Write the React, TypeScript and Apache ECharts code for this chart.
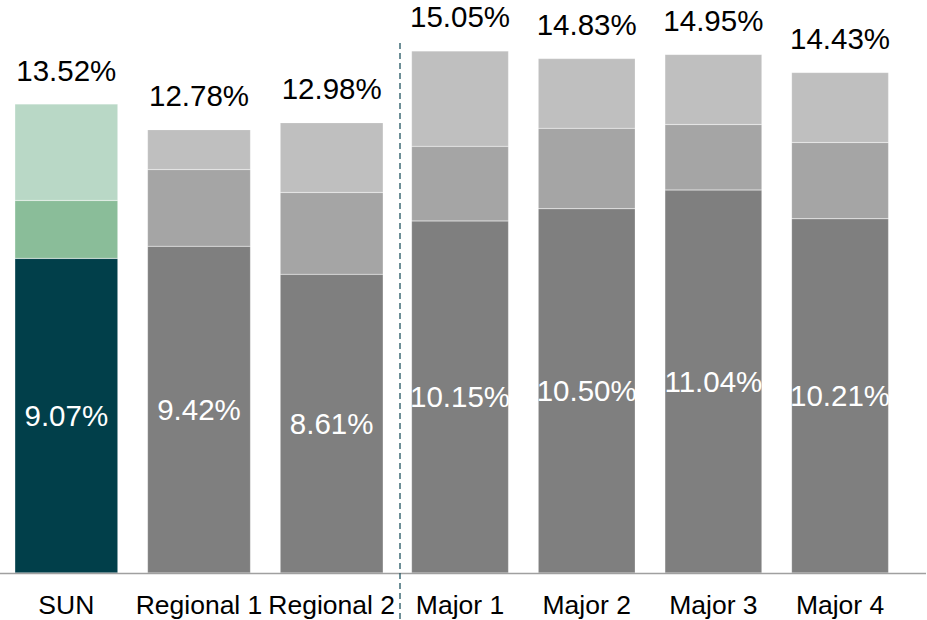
import React, { useEffect, useRef } from "react";
import * as echarts from "echarts";

const categories = ["SUN", "Regional 1", "Regional 2", "Major 1", "Major 2", "Major 3", "Major 4"];
const baseValues = [9.07, 9.42, 8.61, 10.15, 10.5, 11.04, 10.21];
const midValues = [1.67, 2.21, 2.36, 2.15, 2.32, 1.89, 2.2];
const topValues = [2.78, 1.15, 2.01, 2.75, 2.01, 2.02, 2.02];
const totals = [13.52, 12.78, 12.98, 15.05, 14.83, 14.95, 14.43];

const GRAY = ["#7f7f7f", "#a5a5a5", "#bfbfbf"];
const GREEN = ["#013f4a", "#8abd99", "#b9d8c6"];
const FONT = "'Liberation Sans', Arial, sans-serif";

export default function App() {
  const ref = useRef<HTMLDivElement>(null);
  useEffect(() => {
    if (!ref.current) return;
    const chart = echarts.init(ref.current, null, { renderer: "svg" });
    const splitAt = 3;
    const groups = [
      { idx: 0, from: 0, to: splitAt, barWidth: 103 },
      { idx: 1, from: splitAt, to: categories.length, barWidth: 97 },
    ];
    const layers = [baseValues, midValues, topValues];
    const series: any[] = [];
    groups.forEach((g) => {
      layers.forEach((vals, li) => {
        series.push({
          type: "bar",
          xAxisIndex: g.idx,
          yAxisIndex: g.idx,
          stack: "s" + g.idx,
          barWidth: g.barWidth,
          data: vals.slice(g.from, g.to).map((v, i) => {
            const ci = g.from + i;
            return {
              value: v,
              itemStyle: {
                color: ci === 0 ? GREEN[li] : GRAY[li],
                borderColor: "rgba(255,255,255,0.35)",
                borderWidth: 0.5,
              },
            };
          }),
          label:
            li === 0
              ? {
                  show: true,
                  position: "inside",
                  color: "#ffffff",
                  fontSize: 29.5,
                  fontFamily: FONT,
                  formatter: (p: any) => baseValues[g.from + p.dataIndex].toFixed(2) + "%",
                }
              : li === 2
              ? {
                  show: true,
                  position: "top",
                  distance: 19,
                  color: "#000000",
                  fontSize: 29.5,
                  fontFamily: FONT,
                  formatter: (p: any) => totals[g.from + p.dataIndex].toFixed(2) + "%",
                }
              : { show: false },
        });
      });
    });
    const xAxisCommon = {
      type: "category",
      axisLine: { show: false },
      axisTick: { show: false },
      axisLabel: { fontSize: 26.5, color: "#000000", fontFamily: FONT, margin: 18, interval: 0 },
    };
    chart.setOption({
      animation: false,
      grid: [
        { left: 0, width: 398, top: 18, bottom: 47 },
        { left: 396.7, width: 506.7, top: 18, bottom: 47 },
      ],
      xAxis: [
        { ...xAxisCommon, gridIndex: 0, data: categories.slice(0, splitAt) },
        { ...xAxisCommon, gridIndex: 1, data: categories.slice(splitAt) },
      ],
      yAxis: [
        { type: "value", gridIndex: 0, min: 0, max: 16, show: false },
        { type: "value", gridIndex: 1, min: 0, max: 16, show: false },
      ],
      series,
      graphic: [
        {
          type: "line",
          shape: { x1: 0, y1: 573.5, x2: 926, y2: 573.5 },
          style: { stroke: "#a0a0a0", lineWidth: 1.5 },
          z: 10,
        },
        {
          type: "line",
          shape: { x1: 400, y1: 43, x2: 400, y2: 620 },
          style: { stroke: "#1f5360", lineWidth: 1.3, lineDash: [6, 4] },
          z: 10,
        },
      ],
    });
    return () => chart.dispose();
  }, []);
  return <div ref={ref} style={{ width: 927, height: 620, position: "absolute", left: 0, top: 0 }} />;
}
